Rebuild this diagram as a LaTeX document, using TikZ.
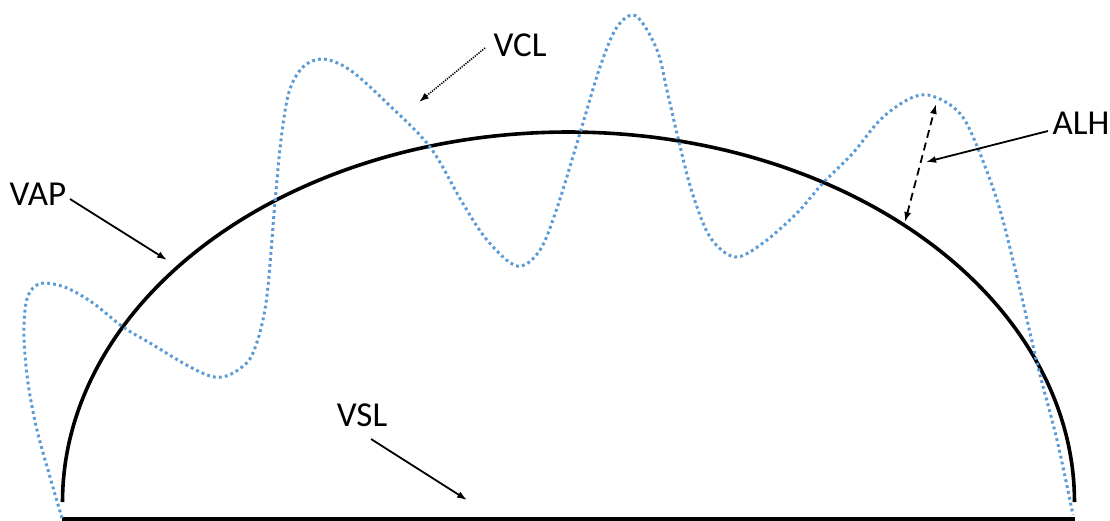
\documentclass[tikz,border=0pt]{standalone}
\usepackage{fontspec}
\setmainfont{Carlito}
\usetikzlibrary{arrows.meta}
\definecolor{curveblue}{RGB}{91,155,213}
\tikzset{
  lbl/.style={inner sep=0pt, font=\fontsize{35}{40}\selectfont},
  pointer/.style={line width=1.8pt, -{Latex[length=10pt,width=7pt]}},
  dotpointer/.style={line width=1.6pt, dash pattern=on 1.2pt off 1.2pt, -{Latex[length=10pt,width=7pt]}},
  dashpointer/.style={line width=1.8pt, dash pattern=on 8pt off 5pt, {Latex[length=10pt,width=7pt]}-{Latex[length=10pt,width=7pt]}},
  vapline/.style={line width=3.6pt},
  vclline/.style={draw=curveblue, line width=3pt, dash pattern=on 2.8pt off 3.2pt},
}
\begin{document}
\begin{tikzpicture}[x=1pt,y=-1pt]
\useasboundingbox (0,0) rectangle (1110,520);
% base line (VSL)
\draw[line width=4pt] (62,519) -- (1075,519);
% VAP arc
\draw[vapline] plot[domain=180:0, samples=120, smooth] ({568.5+506*cos(\x)},{502-370*sin(\x)});
% VCL curve
\draw[vclline] plot[smooth, tension=0.55] coordinates {
 (62,518) (50,477) (37,430) (28,383) (24,337) (26,303) (33,288) (45,283)
 (67,288) (93,303) (123,327) (150,343) (183,363) (207,375) (222,377)
 (238,370) (253,353) (266,303) (275,202) (281,140) (289,92)
 (303,67) (323,59) (350,70) (387,103) (430,147)
 (462,202) (487,240) (517,266) (540,250) (558,205)
 (580,133) (600,67) (617,27) (636,16) (657,50) (668,95) (679,142)
 (692,192) (710,237) (735,257) (763,243) (797,213) (823,183) (853,153)
 (880,120) (907,100) (928,95) (953,107) (970,130) (997,200)
 (1017,277) (1038,367) (1057,440) (1073,515)};
% labels
\node[lbl] (vap) at (38,194) {VAP};
\node[lbl] (vcl) at (520,45) {VCL};
\node[lbl] (alh) at (1081,123) {ALH};
\node[lbl] (vsl) at (362,415) {VSL};
% pointer ends
\coordinate (vapS) at (70,199);  \coordinate (vapE) at (167,260);
\coordinate (vclS) at (485,48);  \coordinate (vclE) at (419,102);
\coordinate (alhS) at (1048,131); \coordinate (alhE) at (926,162);
\coordinate (hTop) at (936,104); \coordinate (hBot) at (905,222);
\coordinate (vslS) at (371,439); \coordinate (vslE) at (467,500);
\draw[pointer] (vapS) -- (vapE);
\draw[dotpointer] (vclS) -- (vclE);
\draw[pointer] (alhS) -- (alhE);
\draw[dashpointer] (hBot) -- (hTop);
\draw[pointer] (vslS) -- (vslE);
\end{tikzpicture}
\end{document}
